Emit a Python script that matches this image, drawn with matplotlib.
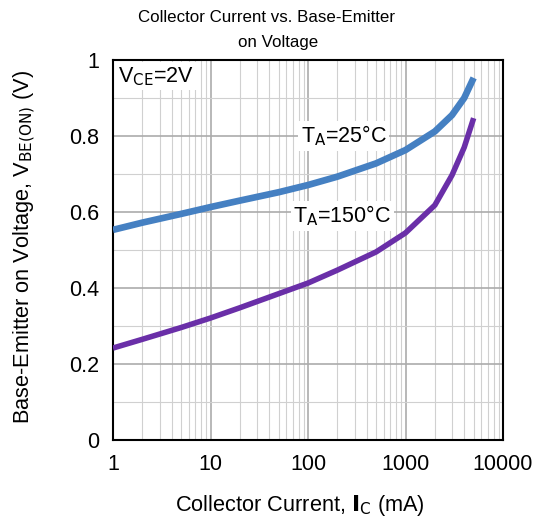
import matplotlib.pyplot as plt
from matplotlib.ticker import LogLocator, FixedLocator

plt.rcParams['font.family'] = ['Liberation Sans', 'DejaVu Sans']

ic_ma = [1, 2, 5, 10, 20, 50, 100, 200, 500, 1000, 2000, 3000, 4000, 5000]
vbe_25c = [0.553, 0.572, 0.595, 0.613, 0.630, 0.652, 0.671, 0.693, 0.728, 0.763, 0.812, 0.855, 0.900, 0.953]
vbe_150c = [0.242, 0.265, 0.296, 0.321, 0.348, 0.385, 0.413, 0.447, 0.495, 0.545, 0.618, 0.697, 0.770, 0.847]

x_ticks = [1, 10, 100, 1000, 10000]
x_labels = ['1', '10', '100', '1000', '10000']
y_ticks = [0, 0.2, 0.4, 0.6, 0.8, 1]
y_labels = ['0', '0.2', '0.4', '0.6', '0.8', '1']

fig = plt.figure(figsize=(5.4, 5.22), dpi=100)
ax = fig.add_axes([113/540, 82/522, 390/540, 380/522])

ax.set_xscale('log')
ax.set_xlim(1, 10000)
ax.set_ylim(0, 1)

ax.set_xticks(x_ticks)
ax.set_xticklabels(x_labels)
ax.xaxis.set_minor_locator(LogLocator(base=10, subs=range(2, 10)))
ax.set_yticks(y_ticks)
ax.set_yticklabels(y_labels)
ax.yaxis.set_minor_locator(FixedLocator([0.1, 0.3, 0.5, 0.7, 0.9]))

ax.grid(which='major', color='#ababab', lw=1.2)
ax.grid(which='minor', color='#d0d0d0', lw=0.8)
ax.tick_params(which='both', length=0, labelsize=15.5, pad=10)
for s in ax.spines.values():
    s.set_linewidth(1.5)

ax.plot(ic_ma, vbe_25c, color='#4580c2', lw=4.8, solid_capstyle='butt', zorder=3)
ax.plot(ic_ma, vbe_150c, color='#6a2fa8', lw=4.0, solid_capstyle='butt', zorder=3)

box = dict(facecolor='white', edgecolor='none', pad=2)
ax.text(1.12, 0.957, r'V$_{\mathrm{CE}}$=2V', fontsize=15.5, va='center', ha='left', bbox=box, zorder=4)
ax.text(84, 0.80, r'T$_{\mathrm{A}}$=25°C', fontsize=15.5, va='center', ha='left', bbox=box, zorder=4)
ax.text(71, 0.59, r'T$_{\mathrm{A}}$=150°C', fontsize=15.5, va='center', ha='left', bbox=box, zorder=4)

# title lines are slightly off-centre in the original
fig.text(266/540, 1 - 18/522, 'Collector Current vs. Base-Emitter', fontsize=12.2,
         ha='center', va='center')
fig.text(278/540, 1 - 43/522, 'on Voltage', fontsize=12.2, ha='center', va='center')

fig.text(300/540, 1 - 505/522, r'Collector Current, $\mathbf{I}_{\mathrm{C}}$ (mA)', fontsize=15.7,
         ha='center', va='center')
fig.text(25/540, 1 - 247/522, r'Base-Emitter on Voltage, V$_{\mathrm{BE(ON)}}$ (V)', fontsize=15.7,
         ha='center', va='center', rotation=90)

fig.savefig('out.png', dpi=100)
